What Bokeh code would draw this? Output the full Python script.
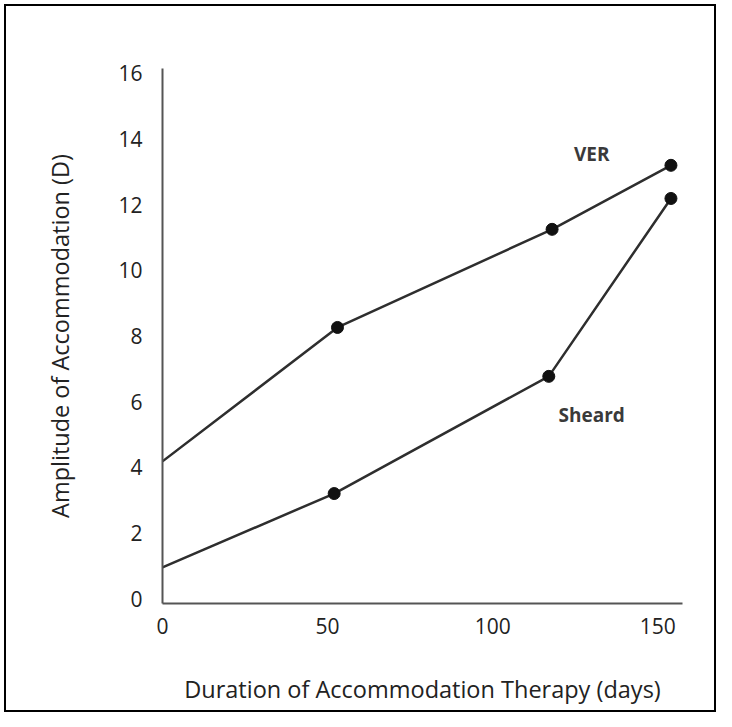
from bokeh.plotting import figure
from bokeh.models import Range1d, FixedTicker, Label
from bokeh.embed import file_html
from bokeh.resources import INLINE

# Data
ver_days = [0, 53, 118, 154]
ver_amp = [4.18, 8.26, 11.25, 13.2]
sheard_days = [0, 52, 117, 154]
sheard_amp = [0.95, 3.2, 6.77, 12.19]
x_ticks = [0, 50, 100, 150]
y_ticks = [0, 2, 4, 6, 8, 10, 12, 14, 16]

FONT = "Open Sans"
TXT = "#222222"

p = figure(width=712, height=708, output_backend="svg", toolbar_location=None,
           x_range=Range1d(0, 157.5), y_range=Range1d(-0.15, 16.15),
           min_border_left=156, min_border_top=62, min_border_right=36, min_border_bottom=111,
           styles={"border": "2px solid black", "margin-left": "4px", "margin-top": "4px"})
p.outline_line_color = None
p.grid.visible = False
p.background_fill_color = "white"
p.border_fill_color = "white"

for ax in (p.xaxis[0], p.yaxis[0]):
    ax.axis_line_color = "#555555"
    ax.axis_line_width = 2
    ax.major_tick_line_color = None
    ax.minor_tick_line_color = None
    ax.major_tick_out = 0
    ax.major_tick_in = 0
    ax.major_label_text_font = FONT
    ax.major_label_text_font_size = "21px"
    ax.major_label_text_color = TXT
    ax.axis_label_text_font = FONT
    ax.axis_label_text_font_size = "23.5px"
    ax.axis_label_text_font_style = "normal"
    ax.axis_label_text_color = TXT

p.xaxis.ticker = FixedTicker(ticks=x_ticks)
p.yaxis.ticker = FixedTicker(ticks=y_ticks)
p.xaxis.major_label_standoff = 14
p.yaxis.major_label_standoff = 20
p.xaxis.axis_label = "Duration of Accommodation Therapy (days)"
p.yaxis.axis_label = "Amplitude of Accommodation (D)"
p.xaxis.axis_label_standoff = 36
p.yaxis.axis_label_standoff = 39

p.line(ver_days, ver_amp, line_color="#2e2e2e", line_width=2.5)
p.line(sheard_days, sheard_amp, line_color="#2e2e2e", line_width=2.5)
p.scatter(ver_days[1:], ver_amp[1:], size=12, color="#111111")
p.scatter(sheard_days[1:], sheard_amp[1:], size=12, color="#111111")

p.add_layout(Label(x=130, y=13.55, text="VER", text_align="center", text_baseline="middle",
                   text_font=FONT, text_font_size="19px", text_font_style="bold",
                   text_color="#3a3a3a"))
p.add_layout(Label(x=130, y=5.6, text="Sheard", text_align="center", text_baseline="middle",
                   text_font=FONT, text_font_size="19px", text_font_style="bold",
                   text_color="#3a3a3a"))

open("out.html", "w").write(file_html(p, INLINE))
